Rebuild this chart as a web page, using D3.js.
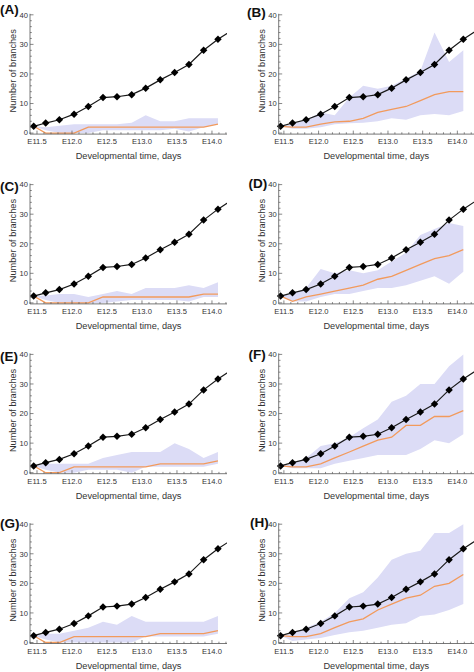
<!DOCTYPE html>
<html>
<head>
<meta charset="utf-8">
<script src="https://cdn.jsdelivr.net/npm/d3@7"></script>
<style>
  html, body { margin: 0; padding: 0; background: #fff; }
  svg { display: block; font-family: "Liberation Sans", Arial, sans-serif; }
</style>
</head>
<body>
<svg id="chart" width="474" height="672"></svg>
<script>
// ---------------- DATA ----------------
const panelLabels = ["(A)", "(B)", "(C)", "(D)", "(E)", "(F)", "(G)", "(H)"];
const times = [11.453, 11.624, 11.82, 12.03, 12.233, 12.443, 12.643, 12.853, 13.053, 13.261, 13.467, 13.671, 13.881, 14.086];
const observed = [2.3, 3.4, 4.5, 6.4, 9.0, 12.0, 12.3, 13.0, 15.2, 18.0, 20.5, 23.2, 28.0, 31.7];
const observedTailTime = 14.3;
const observedTailValue = 35.0;

const medianA = [2.3, 0, 0, 0, 2, 2, 2, 2, 2, 2, 2, 2, 2, 3];
const lowerA  = [2.3, 1, 0, 0, 0, 1, 1, 1, 1, 1, 1.5, 0.5, 2, 3];
const upperA  = [2.3, 2, 2.5, 3, 3, 3, 3, 3.5, 6, 4, 4, 5, 5, 5];

const medianB = [2.3, 2, 2, 3, 3.8, 4, 5, 7, 8, 9, 11, 13, 14, 14];
const lowerB  = [2.3, 1.5, 1.5, 2, 3, 3.3, 3.5, 4, 5, 4.5, 6, 6.5, 6, 7.5];
const upperB  = [2.3, 3, 4.5, 7, 6, 12, 16, 15, 16, 18.5, 21, 34, 24, 28];

const medianC = [2.3, 0, 0, 0, 0, 2, 2, 2, 2, 2, 2, 2, 3, 3];
const lowerC  = [2.3, 1, 0, 0, 0, 0, 0.5, 1, 1, 1, 1, 0.5, 2, 2];
const upperC  = [2.3, 2.5, 3, 3, 2, 3, 4, 3, 5, 5, 5, 6, 5, 7];

const medianD = [2.3, 0.5, 2, 3, 4, 5, 6, 8, 9, 11, 13, 15, 16, 18];
const lowerD  = [2.3, 0.5, 0.5, 2, 3, 3, 4, 5, 5, 6, 7.5, 9, 6.5, 10.5];
const upperD  = [2.3, 3, 5, 11.5, 10, 11, 10, 11, 14, 17, 23, 25, 27, 26];

const medianE = [2.3, 0, 0, 2, 2, 2, 2, 2, 2, 3, 3, 3, 3, 4];
const lowerE  = [2.3, 1, 0, 0, 1, 1, 1, 0, 2, 2, 2, 2, 2, 3];
const upperE  = [2.3, 3, 3, 3, 3, 5, 6, 7, 7, 7, 10, 8, 5, 7];

const medianF = [2.3, 2, 2, 3, 5, 7, 9, 11, 12, 16, 16, 19, 19, 21];
const lowerF  = [2.3, 1.5, 1.5, 1.5, 3, 4, 5, 6, 6, 6, 8, 11, 10, 13];
const upperF  = [2.3, 3, 5, 9, 10, 12, 15, 18, 24, 26, 30, 30, 36, 40];

const medianG = [2.3, 0, 0, 2, 2, 2, 2, 2, 2, 3, 3, 3, 3, 4];
const lowerG  = [2.3, 1, 0, 0, 0, 0, 0, 0, 2, 2, 2, 2, 2, 3];
const upperG  = [2.3, 3, 3, 4, 5, 7, 6, 9, 7, 7, 7, 7, 7, 9];

const medianH = [2.3, 2, 2, 3, 5, 7, 8, 11, 13, 15, 16, 19, 20, 23];
const lowerH  = [2.3, 0.5, 1, 1.5, 2.5, 3.5, 4, 5, 6, 6.5, 9, 9.5, 11, 13];
const upperH  = [2.3, 3, 5, 7, 10, 15, 17, 22, 28, 30, 31, 37, 37, 40];

const xTicks = [11.5, 12.0, 12.5, 13.0, 13.5, 14.0];
const xTickLabels = ["E11.5", "E12.0", "E12.5", "E13.0", "E13.5", "E14.0"];
const yTicks = [0, 10, 20, 30, 40];
const xTitle = "Developmental time, days";
const yTitle = "Number of branches";

const panels = [
  { median: medianA, lower: lowerA, upper: upperA },
  { median: medianB, lower: lowerB, upper: upperB },
  { median: medianC, lower: lowerC, upper: upperC },
  { median: medianD, lower: lowerD, upper: upperD },
  { median: medianE, lower: lowerE, upper: upperE },
  { median: medianF, lower: lowerF, upper: upperF },
  { median: medianG, lower: lowerG, upper: upperG },
  { median: medianH, lower: lowerH, upper: upperH }
];

// ---------------- LAYOUT ----------------
const colX = [[30, 227], [278.7, 474]];
const colDomain = [[11.4, 14.215], [11.425, 14.24]];
const rowTop0 = 14.8, rowStep = 169.8, plotH = 118.3;
const labelPos = [[0, 13.5], [247, 16.5], [0, 190.5], [248.5, 188], [0, 361], [248.5, 359], [0, 528], [250, 526.5]];

const BAND = "#dcdcf6", ORANGE = "#f29a5c", BLACK = "#1a1a1a", AXIS = "#555", TEXT = "#333";

const svg = d3.select("#chart");
const defs = svg.append("defs");

panels.forEach((p, i) => {
  const col = i % 2, row = Math.floor(i / 2);
  const top = rowTop0 + row * rowStep;
  const zeroY = top + plotH;
  const [xl, xr] = colX[col];
  const x = d3.scaleLinear().domain(colDomain[col]).range([xl, xr]);
  const y = d3.scaleLinear().domain([0, 40]).range([zeroY, top]);
  const axisY = zeroY + 1;

  const clipId = "clip" + i;
  defs.append("clipPath").attr("id", clipId).append("rect")
    .attr("x", xl).attr("y", top - 5).attr("width", xr - xl).attr("height", axisY - top + 5);

  const g = svg.append("g");
  const pg = g.append("g").attr("clip-path", `url(#${clipId})`);

  const idx = d3.range(times.length);
  // band
  pg.append("path")
    .attr("d", d3.area().x(k => x(times[k])).y0(k => y(p.lower[k])).y1(k => y(p.upper[k]))(idx))
    .attr("fill", BAND);
  // median
  pg.append("path")
    .attr("d", d3.line().x(k => x(times[k])).y(k => y(p.median[k]))(idx))
    .attr("fill", "none").attr("stroke", ORANGE).attr("stroke-width", 1.3);
  // observed
  const obsT = times.concat([observedTailTime]);
  const obsV = observed.concat([observedTailValue]);
  pg.append("path")
    .attr("d", d3.line().x(k => x(obsT[k])).y(k => y(obsV[k]))(d3.range(obsT.length)))
    .attr("fill", "none").attr("stroke", BLACK).attr("stroke-width", 1.2);
  const sq = d3.symbol().type(d3.symbolSquare).size(28);
  g.selectAll("path.mk").data(idx).join("path")
    .attr("class", "mk")
    .attr("d", sq)
    .attr("transform", k => `translate(${x(times[k])},${y(observed[k])}) rotate(45)`)
    .attr("fill", "#000");

  // axes
  const ax = g.append("g");
  ax.append("line").attr("x1", xl).attr("x2", xr).attr("y1", axisY).attr("y2", axisY)
    .attr("stroke", AXIS).attr("stroke-width", 0.8);
  ax.append("line").attr("x1", xl).attr("x2", xl).attr("y1", axisY).attr("y2", y(40) - 1)
    .attr("stroke", AXIS).attr("stroke-width", 0.8);

  // x minor ticks
  const xMinor = d3.range(Math.ceil(colDomain[col][0] * 10), Math.floor(colDomain[col][1] * 10) + 1).map(v => v / 10);
  ax.selectAll("line.xm").data(xMinor).join("line")
    .attr("x1", d => x(d)).attr("x2", d => x(d))
    .attr("y1", axisY).attr("y2", d => axisY - (xTicks.some(t => Math.abs(t - d) < 1e-6) ? 3.5 : 1.8))
    .attr("stroke", AXIS).attr("stroke-width", 0.7);
  ax.selectAll("text.xt").data(xTicks).join("text")
    .attr("x", d => x(d)).attr("y", axisY + 10)
    .attr("text-anchor", "middle").attr("font-size", 7.6).attr("fill", TEXT)
    .text((d, j) => xTickLabels[j]);

  // y ticks
  const yMinor = d3.range(0, 41, 2);
  ax.selectAll("line.ym").data(yMinor).join("line")
    .attr("x1", xl).attr("x2", d => xl + (d % 10 === 0 ? 3.5 : 1.8))
    .attr("y1", d => y(d)).attr("y2", d => y(d))
    .attr("stroke", AXIS).attr("stroke-width", 0.7);
  ax.selectAll("text.yt").data(yTicks).join("text")
    .attr("x", xl - 2).attr("y", d => y(d) + (d === 0 ? 2 : 2.8))
    .attr("text-anchor", "end").attr("font-size", 7.6).attr("fill", TEXT)
    .text(d => d);

  // titles
  g.append("text")
    .attr("x", (xl + xr) / 2).attr("y", axisY + 25)
    .attr("text-anchor", "middle").attr("font-size", 9.2).attr("fill", TEXT)
    .text(xTitle);
  g.append("text")
    .attr("transform", `translate(${xl - 14},${top + 56}) rotate(-90)`)
    .attr("text-anchor", "middle").attr("font-size", 9.2).attr("fill", TEXT)
    .text(yTitle);

  // panel label
  g.append("text")
    .attr("x", labelPos[i][0]).attr("y", labelPos[i][1])
    .attr("font-size", 13.5).attr("font-weight", "bold").attr("fill", "#111")
    .text(panelLabels[i]);
});
</script>
</body>
</html>
